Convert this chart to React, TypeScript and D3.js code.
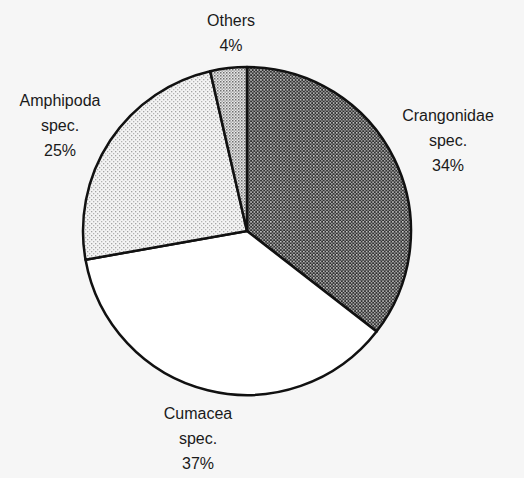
import React from 'react'
import * as d3 from 'd3'

const W = 524
const H = 478

// slices clockwise from 12 o'clock
const names = ['Crangonidae', 'Cumacea', 'Amphipoda', 'Others']
const labelLines = [
  ['Crangonidae', 'spec.', '34%'],
  ['Cumacea', 'spec.', '37%'],
  ['Amphipoda', 'spec.', '25%'],
  ['Others', '4%'],
]
// shares as measured on the drawing
const shares = [35.5, 36.7, 24.2, 3.6]
const fills = ['url(#checker)', '#ffffff', 'url(#lightdots)', 'url(#middots)']
// label anchor (x, y of first line)
const labelPos = [
  [448, 121],
  [198, 419],
  [60, 106],
  [231, 26],
]

const cx = 247
const cy = 231
const r = 164

const App = () => {
  const pie = d3
    .pie<number>()
    .sort(null)
    .value(d => d)
  const arcs = pie(shares)
  const arc = d3.arc<d3.PieArcDatum<number>>().innerRadius(0).outerRadius(r)

  return (
    <svg
      width={W}
      height={H}
      style={{ position: 'absolute', left: 0, top: 0, background: '#f6f6f6' }}
    >
      <defs>
        <pattern id="checker" width="3.3" height="3.3" patternUnits="userSpaceOnUse">
          <rect width="3.3" height="3.3" fill="#303030" />
          <rect x="0" y="0" width="1.5" height="1.5" fill="#cfcfcf" />
          <rect x="1.65" y="1.65" width="1.4" height="1.4" fill="#b5b5b5" />
        </pattern>
        <pattern id="lightdots" width="4" height="4" patternUnits="userSpaceOnUse">
          <rect width="4" height="4" fill="#f4f4f4" />
          <rect x="0" y="0" width="1.3" height="1.3" fill="#a4a4a4" />
          <rect x="2" y="2" width="1.3" height="1.3" fill="#b4b4b4" />
        </pattern>
        <pattern id="middots" width="3" height="3" patternUnits="userSpaceOnUse">
          <rect width="3" height="3" fill="#e8e8e8" />
          <rect x="0" y="0" width="1.5" height="1.5" fill="#707070" />
          <rect x="1.5" y="1.5" width="1.3" height="1.3" fill="#909090" />
        </pattern>
      </defs>
      <g transform={`translate(${cx},${cy})`}>
        {arcs.map((a, i) => (
          <path
            key={names[i]}
            d={arc(a) || ''}
            fill={fills[i]}
            stroke="#111"
            strokeWidth={2.5}
            strokeLinejoin="round"
          />
        ))}
      </g>
      {labelLines.map((lines, i) => (
        <text
          key={names[i]}
          x={labelPos[i][0]}
          y={labelPos[i][1]}
          textAnchor="middle"
          fontFamily="Liberation Sans, Arial, sans-serif"
          fontSize={16}
          fill="#1a1a1a"
        >
          {lines.map((t, j) => (
            <tspan key={j} x={labelPos[i][0]} dy={j === 0 ? 0 : 25}>
              {t}
            </tspan>
          ))}
        </text>
      ))}
    </svg>
  )
}

export default App
